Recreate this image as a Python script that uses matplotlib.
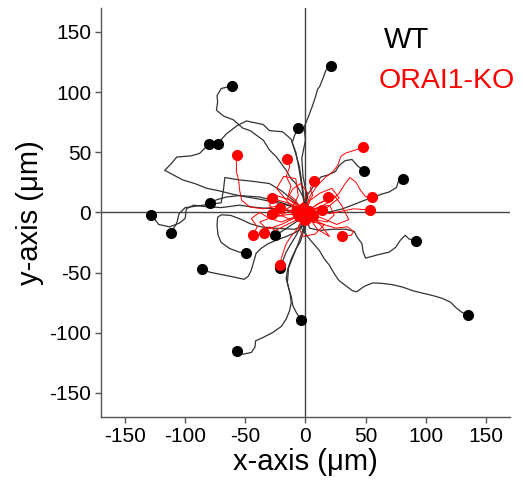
import matplotlib
matplotlib.use("Agg")
import matplotlib.pyplot as plt

plt.rcParams['font.family'] = ['Liberation Sans', 'DejaVu Sans']
plt.rcParams['axes.unicode_minus'] = False

# --- WT tracks (x, y in um), each starts at origin, ends at dot ---
wt_tracks = [
    [(0, 0), (1, 15), (-2, 30), (-3, 45), (0, 60), (-1, 71), (3, 81), (6, 89), (8, 95), (10, 102), (12, 105), (14, 110), (17, 118), (21, 122)],
    [(0, 0), (-2, 13), (-8, 24), (-12, 28), (-16, 35), (-24, 46), (-30, 52), (-35, 60), (-46, 68), (-52, 70), (-60, 77), (-68, 80), (-74, 85), (-73, 92), (-73.5, 97), (-70, 103), (-61, 105)],
    [(0, 0), (-2, 15), (-4, 28), (-6, 40), (-8, 50), (-11, 58), (-9, 64), (-6, 70)],
    [(0, 0), (-2, 18), (-5, 38), (-9, 52), (-12, 61), (-19, 67), (-30, 68), (-35, 73), (-49, 76), (-57, 72), (-66, 65), (-73, 57)],
    [(0, 0), (-5, 3), (-19, 7), (-38, 11), (-50, 13), (-60, 15), (-72, 18), (-82, 20), (-92, 24), (-102, 27), (-117, 35), (-112, 40), (-107, 46), (-95, 47), (-88, 49), (-80, 57)],
    [(0, 0), (2, 15), (9, 25), (13, 29.5), (18.5, 31), (25, 34), (28, 39), (33, 43), (38.7, 44), (43, 39), (49, 34)],
    [(0, 0), (10, 1), (20, 0.3), (31, 3), (40.6, 6.7), (49, 10), (57, 12.8), (62.7, 15), (69.6, 17), (75.6, 20.6), (77, 25), (81, 28)],
    [(0, 0), (-7, 4), (-21.5, 8.6), (-38, 12.8), (-54.7, 14), (-65.7, 12.8), (-74, 10.5), (-79, 8)],
    [(0, 0), (-10, 1), (-25, 3), (-40, 4), (-55, 6), (-70, 4), (-85, 5), (-93, 6), (-99, 3), (-100, -5), (-105, -9), (-113, -12), (-122, -10), (-128, -2)],
    [(0, 0), (-10, 10), (-20, 18), (-30, 24), (-45, 26), (-55, 27), (-67, 29), (-68, 20), (-70, 8), (-85, 6), (-100, 4), (-105, -1), (-107, -9), (-112, -17)],
    [(0, 0), (-3, -4), (-8, -8), (-14, -12), (-20, -16), (-25, -19)],
    [(0, 0), (-2, -11), (-9, -14), (-17, -13.6), (-27, -13), (-37, -12), (-46, -9.4), (-53, -6), (-62, -2.5), (-70, -2), (-73, -4), (-73.5, -11), (-72.6, -19), (-70, -25), (-63, -30), (-55, -33), (-49, -34)],
    [(0, 0), (3.3, -13), (11.6, -15), (22.6, -14), (33.7, -14), (40.6, -15.8), (43, -20.5), (47, -26), (48, -33), (50, -38), (55.8, -36.4), (61, -35), (69.6, -33), (75, -29), (79, -23), (83, -19), (86, -22), (92, -24)],
    [(0, 0), (-3.6, -13.6), (-9, -17), (-16, -20), (-24, -23), (-31, -26), (-37, -30), (-41, -34), (-43, -41), (-45, -48), (-47.5, -53), (-51, -55.6), (-60, -53.6), (-71, -51.4), (-79.5, -49.7), (-86, -47)],
    [(0, 0), (-3.6, -10.8), (-7.7, -19), (-12, -26), (-16, -33), (-18.8, -40), (-21, -46)],
    [(0, 0), (-1.7, -16.4), (-4.4, -24.7), (-7.7, -30), (-11.8, -38.6), (-14.7, -47), (-16, -55), (-13.8, -63.6), (-11.8, -69.7), (-10.5, -77.5), (-7.7, -83), (-4, -89)],
    [(0, 0), (-1, -16.4), (3.3, -22), (7.5, -27), (11.6, -31.7), (15.7, -38.6), (20, -44), (24, -51), (28, -56.7), (33.7, -61), (39, -65), (42.5, -66), (49, -61.4), (55.8, -58.6), (64, -59), (72, -60), (80.6, -62), (89, -65), (97, -67), (105.5, -69), (113.8, -71.4), (120.7, -74.7), (125, -79), (130, -83), (135, -85)],
    [(0, 0), (-2, -14), (-6, -26), (-10, -36), (-14, -46), (-15, -58), (-12.7, -68), (-11.8, -75), (-13.3, -82), (-16, -88.6), (-20, -94.7), (-27, -99.7), (-35.4, -104), (-41.4, -106.7), (-42, -112), (-45, -116.4), (-52, -117.8), (-57, -115)],
]

# --- ORAI1-KO tracks ---
ko_tracks = [
    [(0, 0), (3.3, 12.8), (10, 22.5), (17, 29.5), (22.6, 33.6), (26.8, 39), (29.6, 46.7), (33.7, 49.4), (42, 52), (47.5, 54)],
    [(0, 0), (-5, 1), (-15, 2), (-25, 5), (-35, 3), (-46, 4.4), (-53, 10), (-54.7, 18.3), (-55.5, 26.7), (-57.4, 33.6), (-57.4, 42), (-57, 47.5)],
    [(0, 0), (-5, 5), (-8, 10), (-14, 15), (-12, 22), (-16, 30), (-13, 38), (-15, 44)],
    [(0, 0), (2, 8), (6, 14), (4, 20), (7, 26)],
    [(0, 0), (5, 3), (10, 7), (15, 9), (19, 13)],
    [(0, 0), (-8, 4), (-15, 8), (-22, 10), (-28, 12)],
    [(0, 0), (8, 3), (15, 6), (22, 10), (28, 16), (33, 24), (37, 29), (42, 25), (46, 18), (50, 13), (55, 13)],
    [(0, 0), (10, 1), (20, -1), (30, 1), (40, 3), (47, 2.5), (54, 2)],
    [(0, 0), (-6, 2), (-12, 5), (-17, 2), (-21, 4)],
    [(0, 0), (-7, -3), (-14, 1), (-21, -3), (-28, -1)],
    [(0, 0), (5, -2), (9, 3), (14, 2)],
    [(0, 0), (-10, -4), (-20, -8), (-30, -5), (-38, 0), (-45, -5), (-40, -12), (-44, -19)],
    [(0, 0), (-5, -5), (-15, -10), (-25, -15), (-30, -12), (-34.5, -17)],
    [(0, 0), (5, -5), (15, -10), (25, -13), (35, -12), (40, -16), (38, -19), (30, -19.7)],
    [(0, 0), (-3, -8), (-7, -14), (-12, -20), (-16, -26), (-18, -32), (-20, -38), (-21.5, -44)],
    [(0, 0), (-8, 6), (-15, 12), (-10, 20), (-4, 24), (2, 16), (-2, 8), (-5, -3)],
    [(0, 0), (8, -6), (18, -8), (24, -2), (20, 6), (10, 4), (3, 1)],
    [(0, 0), (-12, -6), (-22, -2), (-30, 6), (-24, 14), (-12, 10), (-6, 6), (-2, 4)],
    [(0, 0), (4, 10), (12, 16), (22, 20), (28, 12), (18, 4), (6, -3)],
    [(0, 0), (-6, -12), (-2, -20), (8, -18), (16, -10), (6, -8), (0, -6)],
    [(0, 0), (-14, 8), (-24, 20), (-18, 30), (-8, 28), (-6, 14), (-10, 6), (-8, 1)],
    [(0, 0), (10, -14), (20, -20), (14, -12), (8, -6), (2, -4)],
    [(0, 0), (-20, -10), (-32, -14), (-38, -8), (-28, -4), (-16, -2), (-6, -1)],
    [(0, 0), (12, 8), (24, 14), (30, 6), (36, -6), (26, -10), (12, -4), (4, -2)],
]

xticks = [-150, -100, -50, 0, 50, 100, 150]
yticks = [-150, -100, -50, 0, 50, 100, 150]

fig = plt.figure(figsize=(5.23, 4.90), dpi=100)
ax = fig.add_axes([0.193, 0.149, 0.782, 0.835])

ax.axhline(0, color='#444444', lw=1.0, zorder=1)
ax.axvline(0, color='#444444', lw=1.0, zorder=1)

for tr in wt_tracks:
    xs = [p[0] for p in tr]
    ys = [p[1] for p in tr]
    ax.plot(xs, ys, color='#333333', lw=0.9, zorder=2)
for tr in wt_tracks:
    ax.plot(tr[-1][0], tr[-1][1], 'o', color='black', ms=7, zorder=3)

for tr in ko_tracks:
    xs = [p[0] for p in tr]
    ys = [p[1] for p in tr]
    ax.plot(xs, ys, color='red', lw=0.7, zorder=4)
for tr in ko_tracks:
    ax.plot(tr[-1][0], tr[-1][1], 'o', color='red', ms=7, zorder=5)

ax.set_xlim(-170, 170)
ax.set_ylim(-170, 170)
ax.set_xticks(xticks)
ax.set_yticks(yticks)
ax.tick_params(direction='out', length=4, width=1, color='#555555', labelsize=15, pad=3)
for s in ['top', 'right']:
    ax.spines[s].set_visible(False)
for s in ['left', 'bottom']:
    ax.spines[s].set_color('#555555')
    ax.spines[s].set_linewidth(1)

ax.set_xlabel('x-axis (μm)', fontsize=21, labelpad=2)
ax.set_ylabel('y-axis (μm)', fontsize=21, labelpad=4)

ax.text(65, 137, 'WT', color='black', fontsize=21, va='baseline', ha='left')
ax.text(61, 103, 'ORAI1-KO', color='red', fontsize=20.5, va='baseline', ha='left', clip_on=False)

fig.savefig('out.png', dpi=100)
